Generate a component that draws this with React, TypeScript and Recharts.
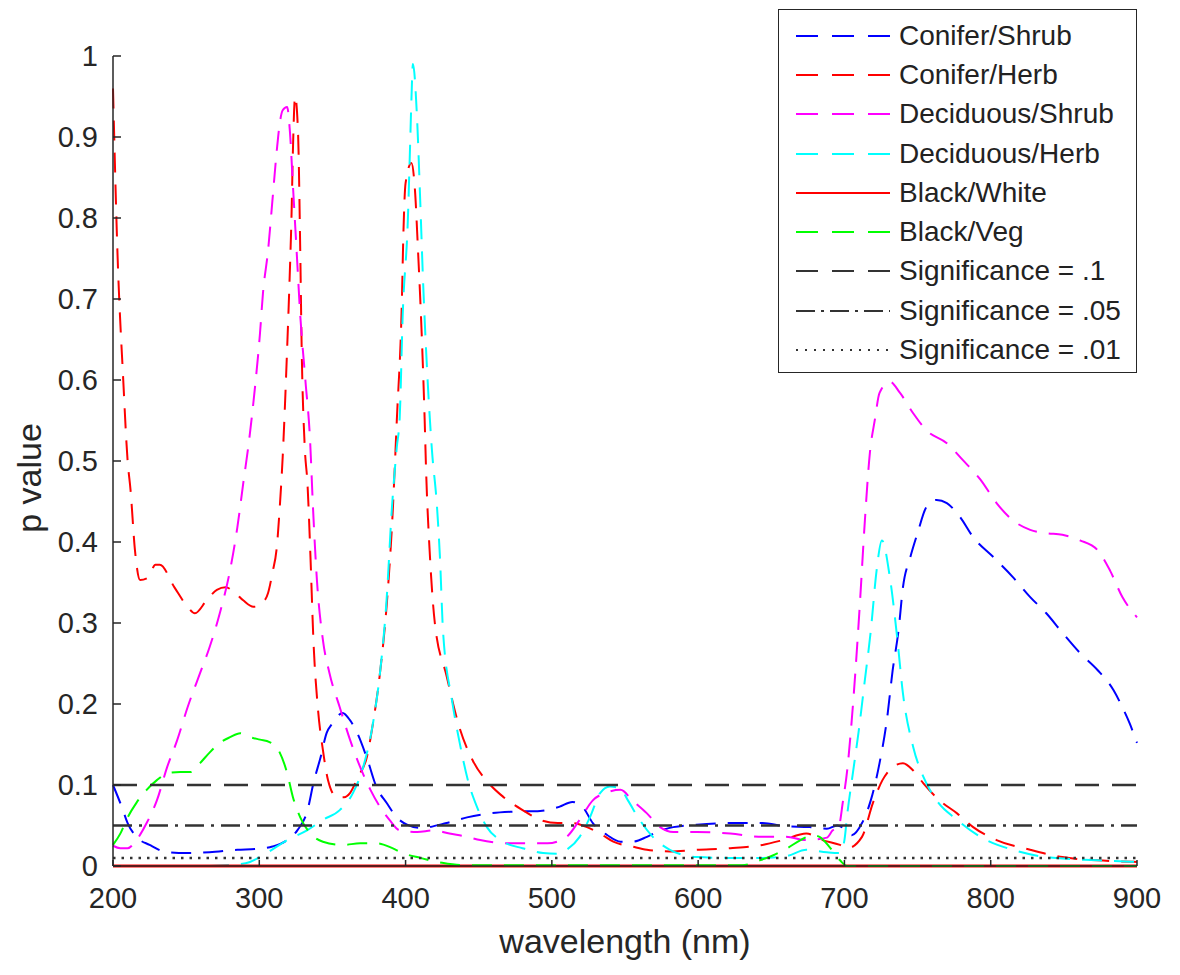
import { LineChart, Line, XAxis, YAxis, Legend } from 'recharts'

// wavelength (nm) / p value pairs
const coniferShrubNm = [200, 206, 210, 216, 225, 237, 250, 266, 285, 298, 309, 319, 326, 333, 337, 342, 346, 350, 357, 362, 367, 374, 380, 387, 394, 401, 410, 428, 442, 458, 473, 492, 505, 514, 521, 528, 538, 547, 555, 565, 572, 583, 599, 622, 644, 660, 676, 688, 695, 700, 705, 712, 718, 724, 729, 733, 737, 740, 745, 750, 756, 763, 770, 779, 788, 802, 815, 827, 838, 849, 861, 873, 884, 890, 895, 900]
const coniferShrubP = [0.1, 0.073, 0.053, 0.036, 0.026, 0.017, 0.016, 0.017, 0.02, 0.021, 0.024, 0.032, 0.044, 0.069, 0.102, 0.135, 0.164, 0.176, 0.189, 0.18, 0.164, 0.131, 0.098, 0.078, 0.06, 0.051, 0.047, 0.053, 0.06, 0.065, 0.067, 0.068, 0.073, 0.079, 0.073, 0.053, 0.038, 0.03, 0.03, 0.036, 0.042, 0.048, 0.051, 0.053, 0.053, 0.049, 0.048, 0.046, 0.05, 0.046, 0.038, 0.053, 0.081, 0.127, 0.18, 0.242, 0.291, 0.344, 0.381, 0.411, 0.443, 0.452, 0.448, 0.431, 0.406, 0.381, 0.357, 0.332, 0.312, 0.288, 0.263, 0.242, 0.217, 0.196, 0.176, 0.152]

const coniferHerbNm = [200, 203, 207, 210, 212, 215, 218.5, 224, 229, 232, 242, 251, 256, 264, 271, 277, 283, 289, 296, 302, 306, 309, 312, 314, 316, 319, 321, 322, 323, 324.5, 326.5, 328, 329, 331, 333, 335, 337, 340, 343.5, 347, 353, 358, 362, 367.5, 373.6, 377.7, 382.5, 387, 391, 394, 397.5, 398.5, 400, 404, 406.4, 408.5, 411, 413, 414, 416.7, 420, 428, 437, 446, 458, 467, 480, 492, 504, 514, 524, 533, 542, 555, 565, 581, 599, 622, 644, 658, 674, 685, 697, 702, 712, 719.5, 726, 733, 740, 747, 754, 765, 777, 788, 804, 827, 849, 873, 900]
const coniferHerbP = [0.96, 0.76, 0.6, 0.5, 0.464, 0.39, 0.353, 0.356, 0.372, 0.372, 0.344, 0.32, 0.312, 0.328, 0.341, 0.344, 0.338, 0.328, 0.32, 0.325, 0.337, 0.362, 0.394, 0.443, 0.505, 0.637, 0.74, 0.8, 0.884, 0.95, 0.905, 0.76, 0.637, 0.52, 0.47, 0.381, 0.279, 0.196, 0.143, 0.106, 0.085, 0.085, 0.09, 0.11, 0.135, 0.176, 0.238, 0.32, 0.43, 0.55, 0.7, 0.78, 0.843, 0.868, 0.835, 0.76, 0.658, 0.554, 0.49, 0.381, 0.3, 0.235, 0.17, 0.13, 0.1, 0.085, 0.069, 0.057, 0.053, 0.053, 0.048, 0.04, 0.03, 0.024, 0.02, 0.018, 0.02, 0.022, 0.026, 0.032, 0.04, 0.032, 0.026, 0.022, 0.036, 0.078, 0.106, 0.122, 0.127, 0.118, 0.102, 0.081, 0.065, 0.048, 0.032, 0.02, 0.011, 0.007, 0.005]

const decShrubNm = [200, 205, 210, 216, 223, 230, 237, 244, 251, 259.5, 266, 273, 280, 285, 289, 293, 297, 300.5, 302.5, 306, 309, 312, 314, 316, 319, 321, 323, 325.5, 328, 331.5, 334.7, 336.7, 339.4, 343.5, 348, 355, 362, 369, 376, 382.5, 389, 396, 408, 419, 430, 442, 451, 473, 497, 510, 519, 528, 538, 547, 555, 565, 574, 583, 599, 622, 644, 660, 674, 688, 692, 696, 699, 702, 705, 707.5, 710.6, 714, 717.4, 720.8, 724, 731, 738, 747, 756, 770, 781, 793, 804, 815, 827, 838, 849, 861, 873, 881.5, 890, 900]
const decShrubP = [0.025, 0.022, 0.022, 0.032, 0.053, 0.081, 0.122, 0.156, 0.196, 0.238, 0.27, 0.312, 0.365, 0.418, 0.472, 0.525, 0.59, 0.658, 0.707, 0.76, 0.822, 0.884, 0.917, 0.933, 0.937, 0.905, 0.84, 0.76, 0.68, 0.6, 0.526, 0.443, 0.353, 0.279, 0.238, 0.196, 0.156, 0.122, 0.094, 0.073, 0.057, 0.044, 0.042, 0.044, 0.04, 0.036, 0.032, 0.028, 0.028, 0.036, 0.057, 0.081, 0.091, 0.094, 0.081, 0.065, 0.048, 0.042, 0.042, 0.04, 0.036, 0.036, 0.032, 0.035, 0.044, 0.048, 0.08, 0.12, 0.18, 0.24, 0.325, 0.427, 0.51, 0.551, 0.584, 0.598, 0.584, 0.559, 0.538, 0.522, 0.501, 0.477, 0.448, 0.427, 0.415, 0.411, 0.409, 0.402, 0.39, 0.365, 0.332, 0.307]

const decHerbNm = [200, 260, 285, 293.6, 305, 319, 332.6, 343.5, 355, 364, 371, 377.7, 382.5, 387, 390.7, 394, 396, 398, 401.6, 403, 404, 405, 407.8, 410, 412, 414.6, 418, 421.5, 423.5, 425.6, 431.7, 437, 442.6, 448.8, 455.6, 466.6, 480, 494, 503.5, 510, 519, 526, 533, 539.7, 546.6, 552, 560, 569, 580.7, 599, 622, 644, 660, 674, 688, 697, 700, 702, 705.8, 710, 714, 718, 722, 725.6, 731, 736, 740, 747, 754, 763, 777, 793, 815, 838, 873, 900]
const decHerbP = [0, 0, 0.002, 0.005, 0.016, 0.032, 0.044, 0.057, 0.069, 0.09, 0.122, 0.176, 0.238, 0.328, 0.443, 0.517, 0.554, 0.678, 0.8, 0.884, 0.946, 0.99, 0.925, 0.822, 0.72, 0.616, 0.514, 0.443, 0.381, 0.29, 0.205, 0.152, 0.106, 0.073, 0.048, 0.03, 0.022, 0.016, 0.015, 0.02, 0.036, 0.06, 0.09, 0.098, 0.096, 0.081, 0.057, 0.036, 0.02, 0.011, 0.01, 0.01, 0.012, 0.02, 0.017, 0.016, 0.032, 0.065, 0.115, 0.17, 0.23, 0.29, 0.365, 0.402, 0.357, 0.283, 0.213, 0.147, 0.11, 0.081, 0.057, 0.036, 0.02, 0.011, 0.007, 0.005]

const blackWhiteNm = [200, 900]
const blackWhiteP = [0, 0]

const blackVegNm = [200, 205, 210, 216, 223, 230, 238, 246, 253, 259.5, 266, 273, 280, 287, 294, 300.5, 307, 314, 319, 323, 328, 335, 343.5, 357, 369, 380.5, 391, 398, 410, 425, 440, 630, 642, 651, 661, 670, 678.5, 683, 690, 697, 701.7, 900]
const blackVegP = [0.026, 0.04, 0.06, 0.078, 0.094, 0.106, 0.115, 0.116, 0.116, 0.127, 0.14, 0.152, 0.159, 0.164, 0.159, 0.156, 0.153, 0.14, 0.115, 0.085, 0.06, 0.04, 0.03, 0.026, 0.028, 0.028, 0.022, 0.016, 0.01, 0.004, 0.001, 0.001, 0.007, 0.013, 0.022, 0.032, 0.038, 0.036, 0.023, 0.007, 0, 0]

const sigNm = [200, 900]
const sig10 = [0.1, 0.1]
const sig05 = [0.05, 0.05]
const sig01 = [0.01, 0.01]

const xTicks = [200, 300, 400, 500, 600, 700, 800, 900]
const yTicks = [0, 0.1, 0.2, 0.3, 0.4, 0.5, 0.6, 0.7, 0.8, 0.9, 1]

const zip = (nm: number[], p: number[]) => nm.map((x, i) => ({ nm: x, p: p[i] }))

const DASH = '20 12'
const series = [
  { name: 'Conifer/Shrub', data: zip(coniferShrubNm, coniferShrubP), color: '#0000ff', dash: DASH, key: '22 14', width: 2 },
  { name: 'Conifer/Herb', data: zip(coniferHerbNm, coniferHerbP), color: '#ff0000', dash: DASH, key: '22 14', width: 2 },
  { name: 'Deciduous/Shrub', data: zip(decShrubNm, decShrubP), color: '#ff00ff', dash: DASH, key: '22 14', width: 2 },
  { name: 'Deciduous/Herb', data: zip(decHerbNm, decHerbP), color: '#00ffff', dash: DASH, key: '22 14', width: 2 },
  { name: 'Black/White', data: zip(blackWhiteNm, blackWhiteP), color: '#ff0000', dash: undefined, key: undefined, width: 3 },
  { name: 'Black/Veg', data: zip(blackVegNm, blackVegP), color: '#00ff00', dash: DASH, key: '22 14', width: 2 },
  { name: 'Significance = .1', data: zip(sigNm, sig10), color: '#333333', dash: '24 13', key: '22 14', width: 2.5 },
  { name: 'Significance = .05', data: zip(sigNm, sig05), color: '#333333', dash: '19 7 3 7', key: '19 6 3 6', width: 2.5 },
  { name: 'Significance = .01', data: zip(sigNm, sig01), color: '#333333', dash: '2.5 6', key: '2 7', width: 2.5 },
]

const AXIS = '#262626'
const FONT = '"Liberation Sans", Arial, sans-serif'

function LegendBox() {
  return (
    <div style={{
      width: 359, height: 364, boxSizing: 'border-box', border: `1.5px solid ${AXIS}`,
      background: '#fff', paddingTop: 6, fontFamily: FONT,
    }}>
      {series.map(s => (
        <div key={s.name} style={{ display: 'flex', alignItems: 'center', height: 39.3 }}>
          <svg width={94} height={6} style={{ marginLeft: 17, flex: 'none' }}>
            <line x1={0} y1={3} x2={94} y2={3} stroke={s.color} strokeWidth={2.2}
              strokeDasharray={s.key} />
          </svg>
          <span style={{ marginLeft: 9, fontSize: 28, color: '#222', whiteSpace: 'nowrap' }}>{s.name}</span>
        </div>
      ))}
    </div>
  )
}

function YLabel(props: { viewBox?: { x: number; y: number; width: number; height: number } }) {
  const vb = props.viewBox
  if (!vb) return null
  const cx = vb.x + 41
  const cy = vb.y + vb.height / 2 + 17
  return (
    <text x={cx} y={cy} transform={`rotate(-90 ${cx} ${cy})`} textAnchor="middle"
      fill={AXIS} fontSize={34} fontFamily={FONT}>
      p value
    </text>
  )
}

export default function App() {
  return (
    <div style={{ width: 1180, height: 975, background: '#fff', fontFamily: FONT }}>
      <style>{'body{margin:0}'}</style>
      <LineChart width={1180} height={975} margin={{ top: 56, right: 43, bottom: 0, left: 0 }}>
        <XAxis
          type="number"
          dataKey="nm"
          domain={[200, 900]}
          ticks={xTicks}
          interval={0}
          height={109}
          axisLine={{ stroke: AXIS, strokeWidth: 1.5 }}
          tickLine={{ stroke: AXIS, strokeWidth: 1.5 }}
          tickSize={-6}
          tickMargin={27}
          tick={{ fill: AXIS, fontSize: 29, fontFamily: FONT }}
          label={{ value: 'wavelength (nm)', position: 'insideBottom', offset: 22, fill: AXIS, fontSize: 34, fontFamily: FONT }}
        />
        <YAxis
          type="number"
          domain={[0, 1]}
          ticks={yTicks}
          interval={0}
          width={113}
          axisLine={{ stroke: AXIS, strokeWidth: 1.5 }}
          tickLine={{ stroke: AXIS, strokeWidth: 1.5 }}
          tickSize={-8}
          tickMargin={23}
          tick={{ fill: AXIS, fontSize: 29, fontFamily: FONT }}
          label={YLabel}
        />
        {series.map(s => (
          <Line
            key={s.name}
            data={s.data}
            dataKey="p"
            name={s.name}
            type="monotone"
            stroke={s.color}
            strokeWidth={s.width}
            strokeDasharray={s.dash}
            dot={false}
            activeDot={false}
            isAnimationActive={false}
          />
        ))}
        <Legend
          layout="vertical"
          align="center"
          verticalAlign="middle"
          wrapperStyle={{ top: 9, left: 778, width: 359, height: 364 }}
          content={() => <LegendBox />}
        />
      </LineChart>
    </div>
  )
}
